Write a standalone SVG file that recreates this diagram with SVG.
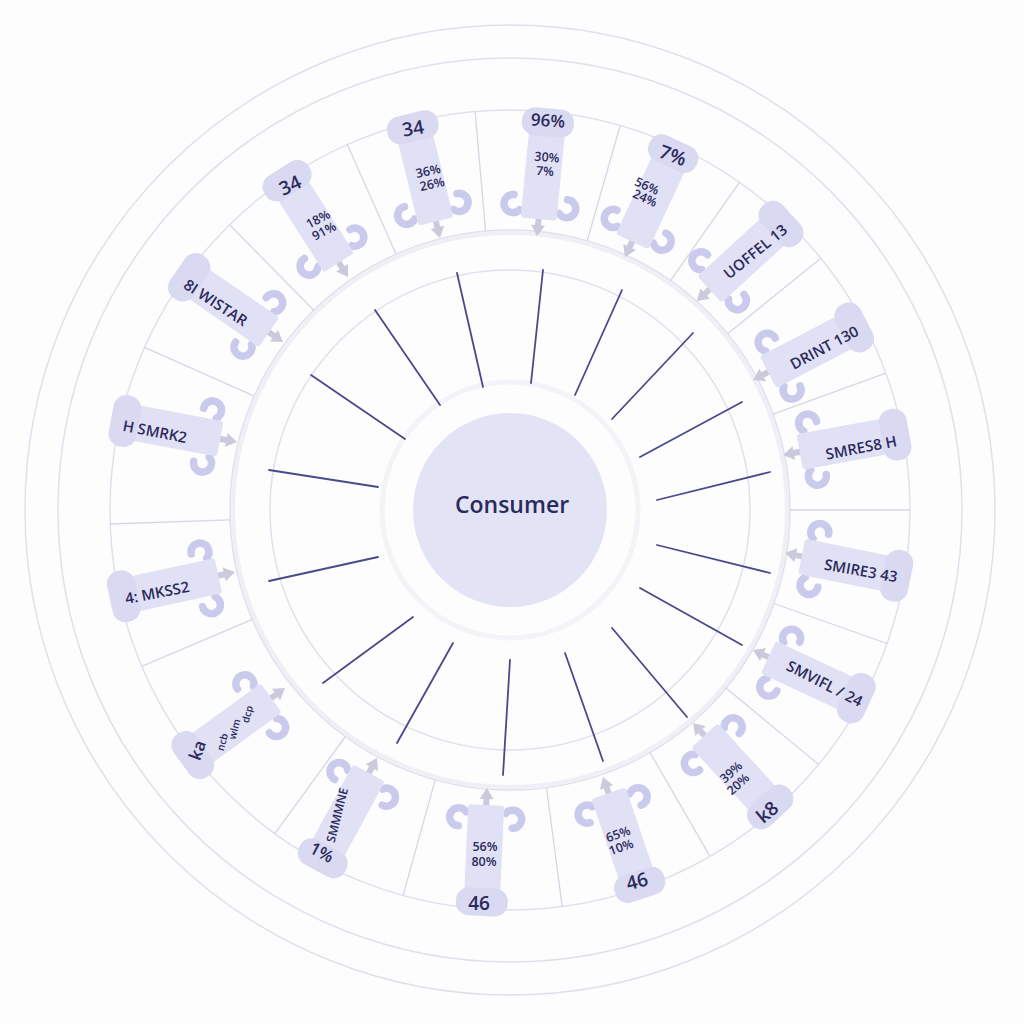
<svg xmlns="http://www.w3.org/2000/svg" width="1024" height="1024" viewBox="0 0 1024 1024">
<style>
.ring{fill:none;stroke:#e0e0ec;stroke-width:1.5}
.band{fill:none;stroke:#efeff6;stroke-width:4}
.div{stroke:#d6d6e5;stroke-width:1.3}
.ray{stroke:#4a4a8a;stroke-width:1.8;stroke-linecap:round}
.body{fill:#e1e1f5}
.knob{fill:#d9d9f1}
.hook{fill:none;stroke:#cacaec;stroke-width:7.5;stroke-linecap:round}
.arr{fill:#cacadc}
.lbl{font-family:"Open Sans","Liberation Sans",sans-serif;font-weight:600;fill:#2a2a5c;text-anchor:middle;dominant-baseline:central}
.big{font-size:19px}
.sm{font-size:12.5px}
.mid{font-size:15px}
.xs{font-size:10px}
</style>
<defs>
<g id="nd">
 <rect class="arr" x="8" y="-3" width="14" height="6"/>
 <path class="arr" d="M0 0 L11 -7 L11 7 Z"/>
 <path class="hook" d="M24.6 19.8 A9 9 0 1 0 39 27"/>
 <path class="hook" d="M24.6 -19.8 A9 9 0 1 1 39 -27"/>
 <rect class="body" x="17" y="-18" width="96" height="36" rx="3"/>
 <rect class="knob" x="100" y="-26" width="28" height="52" rx="13"/>
</g>
</defs>
<rect width="1024" height="1024" fill="#fdfdfe"/>
<g id="rings">
 <circle class="ring" cx="510" cy="510" r="485"/>
 <circle class="ring" cx="510" cy="510" r="452"/>
 <circle class="ring" cx="510" cy="510" r="400"/>
 <circle class="band" cx="510" cy="510" r="277"/>
 <circle class="ring" cx="510" cy="510" r="280"/>
 <circle class="ring" cx="510" cy="510" r="240"/>
 <circle fill="none" stroke="#f3f3f8" stroke-width="5" cx="510" cy="510" r="128"/>
 <line class="div" x1="396.1" y1="254.2" x2="347.3" y2="144.6"/>
 <line class="div" x1="485.6" y1="231.1" x2="475.1" y2="111.5"/>
 <line class="div" x1="587.2" y1="240.8" x2="620.2" y2="125.5"/>
 <line class="div" x1="670.6" y1="280.6" x2="739.4" y2="182.3"/>
 <line class="div" x1="727.6" y1="333.8" x2="820.8" y2="258.3"/>
 <line class="div" x1="773.1" y1="414.2" x2="885.9" y2="373.2"/>
 <line class="div" x1="790" y1="510" x2="910" y2="510"/>
 <line class="div" x1="773.9" y1="603.5" x2="887.0" y2="643.5"/>
 <line class="div" x1="726.0" y1="688.1" x2="818.6" y2="764.4"/>
 <line class="div" x1="650" y1="752.5" x2="710" y2="856.4"/>
 <line class="div" x1="546.5" y1="787.6" x2="562.2" y2="906.6"/>
 <line class="div" x1="435.2" y1="779.8" x2="403.1" y2="895.4"/>
 <line class="div" x1="345.4" y1="736.5" x2="274.9" y2="833.6"/>
 <line class="div" x1="252.3" y1="619.4" x2="141.8" y2="666.3"/>
 <line class="div" x1="230.2" y1="519.8" x2="110.2" y2="524.0"/>
 <line class="div" x1="254.2" y1="396.1" x2="144.6" y2="347.3"/>
 <line class="div" x1="313.7" y1="310.3" x2="229.6" y2="224.7"/>
</g>
<g id="connectors">
 <line class="ray" x1="457" y1="273" x2="483" y2="387"/>
 <line class="ray" x1="543" y1="270" x2="531" y2="383"/>
 <line class="ray" x1="622" y1="290" x2="575" y2="395"/>
 <line class="ray" x1="693" y1="333" x2="612" y2="419"/>
 <line class="ray" x1="742" y1="402" x2="640" y2="457"/>
 <line class="ray" x1="770" y1="472" x2="657" y2="500"/>
 <line class="ray" x1="770" y1="573" x2="657" y2="545"/>
 <line class="ray" x1="742" y1="645" x2="640" y2="588"/>
 <line class="ray" x1="687" y1="717" x2="612" y2="628"/>
 <line class="ray" x1="603" y1="761" x2="565" y2="653"/>
 <line class="ray" x1="503" y1="775" x2="510" y2="660"/>
 <line class="ray" x1="397" y1="743" x2="453" y2="643"/>
 <line class="ray" x1="323" y1="683" x2="413" y2="617"/>
 <line class="ray" x1="269" y1="581" x2="378" y2="557"/>
 <line class="ray" x1="269" y1="470" x2="378" y2="487"/>
 <line class="ray" x1="311" y1="375" x2="405" y2="439"/>
 <line class="ray" x1="375" y1="310" x2="440" y2="405"/>
</g>
<g id="consumer">
 <circle cx="510" cy="510" r="97" fill="#e3e3f6"/>
 <text class="lbl" x="512" y="504" font-size="23">Consumer</text>
</g>
<g id="n1"><use href="#nd" transform="translate(440,238) rotate(-103.8)"/>
 <text class="lbl big" transform="translate(413,128) rotate(-10)">34</text>
 <text class="lbl sm" transform="translate(428,171) rotate(-12)">36%</text>
 <text class="lbl sm" transform="translate(432,184) rotate(-12)">26%</text></g>
<g id="n2"><use href="#nd" transform="translate(537,236) rotate(-84.5)"/>
 <text class="lbl" font-size="17" transform="translate(548,120) rotate(4)">96%</text>
 <text class="lbl sm" transform="translate(547,157) rotate(5)">30%</text>
 <text class="lbl sm" transform="translate(545,171) rotate(5)">7%</text></g>
<g id="n3"><use href="#nd" transform="translate(625,257) rotate(-65)"/>
 <text class="lbl big" transform="translate(673,155) rotate(20)">7%</text>
 <text class="lbl sm" transform="translate(647,186) rotate(25)">56%</text>
 <text class="lbl sm" transform="translate(645,198) rotate(25)">24%</text></g>
<g id="n4"><use href="#nd" transform="translate(697,301) rotate(-42.5)"/>
 <text class="lbl mid" transform="translate(755,251) rotate(-39)">UOFFEL 13</text></g>
<g id="n5"><use href="#nd" transform="translate(753,380) rotate(-27.5)"/>
 <text class="lbl mid" transform="translate(824,347) rotate(-28)">DRINT 130</text></g>
<g id="n6"><use href="#nd" transform="translate(783,455) rotate(-10.3)"/>
 <text class="lbl mid" transform="translate(861,447) rotate(-11)">SMRES8 H</text></g>
<g id="n7"><use href="#nd" transform="translate(785,553) rotate(11.5)"/>
 <text class="lbl mid" transform="translate(861,570) rotate(10)">SMIRE3 43</text></g>
<g id="n8"><use href="#nd" transform="translate(753,650) rotate(25)"/>
 <text class="lbl mid" transform="translate(825,683) rotate(27)">SMVIFL / 24</text></g>
<g id="n9"><use href="#nd" transform="translate(693,723) rotate(47.4)"/>
 <text class="lbl big" transform="translate(767,812) rotate(-40)">k8</text>
 <text class="lbl sm" transform="translate(731,772) rotate(-42)">39%</text>
 <text class="lbl sm" transform="translate(738,784) rotate(-42)">20%</text></g>
<g id="n10"><use href="#nd" transform="translate(603,777) rotate(71.2)"/>
 <text class="lbl big" transform="translate(637,881) rotate(-15)">46</text>
 <text class="lbl sm" transform="translate(618,834) rotate(-20)">65%</text>
 <text class="lbl sm" transform="translate(621,847) rotate(-20)">10%</text></g>
<g id="n11"><use href="#nd" transform="translate(487,788) rotate(92.6)"/>
 <text class="lbl big" x="479" y="903">46</text>
 <text class="lbl sm" x="485" y="846">56%</text>
 <text class="lbl sm" x="484" y="861">80%</text></g>
<g id="n12"><use href="#nd" transform="translate(377,758) rotate(118.4)"/>
 <text class="lbl" font-size="17" transform="translate(322,852) rotate(28)">1%</text>
 <text class="lbl" font-size="12" transform="translate(337,815) rotate(-76)">SMMMNE</text></g>
<g id="n13"><use href="#nd" transform="translate(285,688) rotate(144)"/>
 <text class="lbl" font-size="17" transform="translate(197,750) rotate(-70)">ka</text>
 <text class="lbl xs" transform="translate(222,742) rotate(-75)">ncb</text>
 <text class="lbl xs" transform="translate(234,729) rotate(-75)">wlm</text>
 <text class="lbl xs" transform="translate(247,714) rotate(-75)">dcp</text></g>
<g id="n14"><use href="#nd" transform="translate(235,572) rotate(167.7)"/>
 <text class="lbl mid" transform="translate(157,592) rotate(-11)">4: MKSS2</text></g>
<g id="n15"><use href="#nd" transform="translate(237,442) rotate(190.6)"/>
 <text class="lbl mid" transform="translate(155,431) rotate(11)">H SMRK2</text></g>
<g id="n16"><use href="#nd" transform="translate(283,342) rotate(214.6)"/>
 <text class="lbl mid" transform="translate(216,302) rotate(33)">8I WISTAR</text></g>
<g id="n17"><use href="#nd" transform="translate(348,277) rotate(237.7)"/>
 <text class="lbl big" transform="translate(290,185) rotate(-25)">34</text>
 <text class="lbl sm" transform="translate(318,219) rotate(-28)">18%</text>
 <text class="lbl sm" transform="translate(324,231) rotate(-28)">91%</text></g>
</svg>
